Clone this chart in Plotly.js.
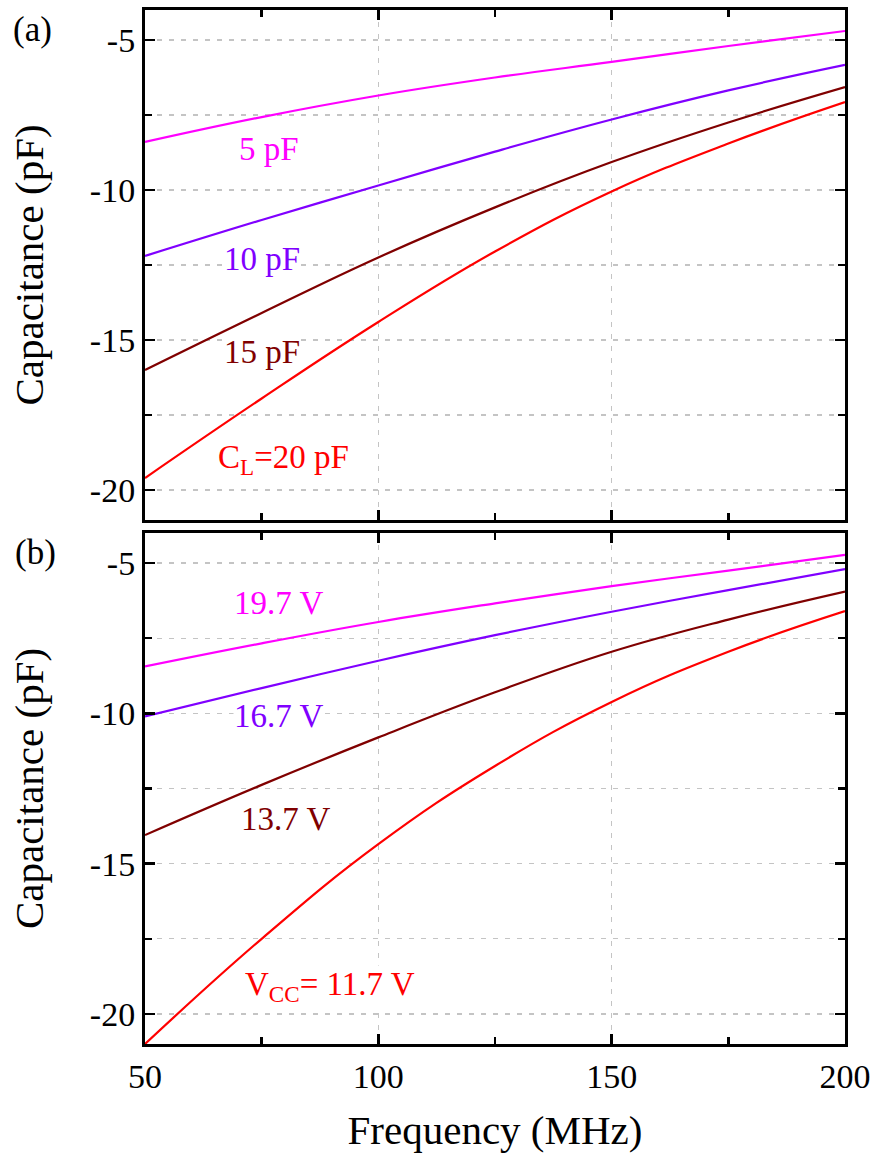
<!DOCTYPE html>
<html>
<head>
<meta charset="utf-8">
<script src="https://cdn.plot.ly/plotly-3.0.1.min.js"></script>
<style>html,body{margin:0;padding:0;background:#fff;}#chart{width:877px;height:1156px;}</style>
</head>
<body>
<div id="chart"></div>
<script>
// Frequency (MHz)
const freq = [50, 75, 100, 125, 150, 175, 200];

// Panel (a): load capacitance series
const a_5pF  = [-8.40, -7.57, -6.85, -6.25, -5.73, -5.20, -4.70];
const a_10pF = [-12.20, -11.00, -9.85, -8.72, -7.65, -6.68, -5.83];
const a_15pF = [-16.00, -14.10, -12.25, -10.58, -9.07, -7.75, -6.57];
const a_20pF = [-19.60, -16.95, -14.40, -12.05, -10.05, -8.45, -7.07];

// Panel (b): supply voltage series
const b_197V = [-8.44, -7.67, -6.96, -6.34, -5.77, -5.25, -4.73];
const b_167V = [-10.10, -9.16, -8.25, -7.40, -6.62, -5.90, -5.20];
const b_137V = [-14.05, -12.38, -10.80, -9.30, -7.95, -6.88, -5.95];
const b_117V = [-21.00, -17.50, -14.35, -11.75, -9.62, -7.95, -6.60];

// Tick labels
const xTickVals = [50, 100, 150, 200];
const xTickText = ["50", "100", "150", "200"];
const yTickVals = [-5, -10, -15, -20];
const yTickText = ["-5", "-10", "-15", "-20"];

const labelsA = ["5 pF", "10 pF", "15 pF", "C<sub>L</sub>=20 pF"];
const labelsB = ["19.7 V", "16.7 V", "13.7 V", "V<sub>CC</sub>= 11.7 V"];
const colors = ["#ff00ff", "#8000ff", "#800000", "#ff0000"];

const seriesA = [a_5pF, a_10pF, a_15pF, a_20pF];
const seriesB = [b_197V, b_167V, b_137V, b_117V];

const traces = [];
seriesA.forEach((s, i) => traces.push({x: freq, y: s, xaxis: 'x2', yaxis: 'y2', mode: 'lines',
  line: {color: colors[i], width: 2.2, shape: 'spline', smoothing: 1.2}, showlegend: false, hoverinfo: 'skip'}));
seriesB.forEach((s, i) => traces.push({x: freq, y: s, xaxis: 'x', yaxis: 'y', mode: 'lines',
  line: {color: colors[i], width: 2.2, shape: 'spline', smoothing: 1.2}, showlegend: false, hoverinfo: 'skip'}));

const font = "'Liberation Serif', 'Times New Roman', Times, 'Nimbus Roman', 'DejaVu Serif', serif";
const tickFont = {family: font, size: 34, color: '#000'};
const titleFont = {family: font, size: 41, color: '#000'};

function xax(extra) {
  return Object.assign({
    range: [50, 200], tickmode: 'array', tickvals: xTickVals, ticktext: xTickText,
    ticks: 'inside', ticklen: 10, tickwidth: 2.5, tickcolor: '#000',
    showline: true, linewidth: 3, linecolor: '#000', mirror: 'ticks', zeroline: false,
    showgrid: true, gridcolor: '#c4c4c4', gridwidth: 1.3, griddash: '5px,7px',
    minor: {tickmode: 'linear', tick0: 0, dtick: 25, ticks: 'inside', ticklen: 7, tickwidth: 2.5, tickcolor: '#000', showgrid: false},
    tickfont: tickFont, fixedrange: true
  }, extra);
}
function yax(extra) {
  return Object.assign({
    range: [-21, -4], tickmode: 'array', tickvals: yTickVals, ticktext: yTickText,
    ticks: 'inside', ticklen: 10, tickwidth: 2.5, tickcolor: '#000',
    showline: true, linewidth: 3, linecolor: '#000', mirror: 'ticks', zeroline: false,
    showgrid: true, gridcolor: '#c4c4c4', gridwidth: 1.3, griddash: '5px,7px',
    minor: {tickmode: 'linear', tick0: 0, dtick: 2.5, ticks: 'inside', ticklen: 7, tickwidth: 2.5, tickcolor: '#000', showgrid: true,
            gridcolor: '#c4c4c4', gridwidth: 1.3, griddash: '5px,7px'},
    tickfont: tickFont, fixedrange: true,
    title: {text: 'Capacitance (pF)', font: titleFont, standoff: 34}
  }, extra);
}

const annXA = [76.6, 75.1, 75.1, 79.6];
const annYA = [-8.63, -12.3, -15.4, -19.0];
const annXB = [78.5, 78.5, 80.0, 89.6];
const annYB = [-6.34, -10.08, -13.52, -19.1];

const annotations = [];
labelsA.forEach((t, i) => annotations.push({x: annXA[i], y: annYA[i], xref: 'x2', yref: 'y2', text: t,
  showarrow: false, font: {family: font, size: 33, color: colors[i]}, bgcolor: '#ffffff', borderpad: 0}));
labelsB.forEach((t, i) => annotations.push({x: annXB[i], y: annYB[i], xref: 'x', yref: 'y', text: t,
  showarrow: false, font: {family: font, size: 33, color: colors[i]}, bgcolor: '#ffffff', borderpad: 0}));
annotations.push({x: -0.161, y: 0.9807, xref: 'paper', yref: 'paper', xanchor: 'center', yanchor: 'middle',
  text: '(a)', showarrow: false, font: {family: font, size: 35, color: '#000'}});
annotations.push({x: -0.156, y: 0.4749, xref: 'paper', yref: 'paper', xanchor: 'center', yanchor: 'middle',
  text: '(b)', showarrow: false, font: {family: font, size: 35, color: '#000'}});

const layout = {
  width: 877, height: 1156,
  margin: {l: 145, r: 32, t: 10, b: 112},
  paper_bgcolor: '#fff', plot_bgcolor: '#fff',
  font: {family: font},
  xaxis: xax({anchor: 'y', domain: [0, 1], title: {text: 'Frequency (MHz)', font: titleFont, standoff: 22}}),
  yaxis: yax({anchor: 'x', domain: [0, 0.4942]}),
  xaxis2: xax({anchor: 'y2', domain: [0, 1], matches: 'x', showticklabels: false}),
  yaxis2: yax({anchor: 'x2', domain: [0.5068, 1]}),
  annotations: annotations,
  showlegend: false
};

Plotly.newPlot('chart', traces, layout, {staticPlot: true, displayModeBar: false});
</script>
</body>
</html>
